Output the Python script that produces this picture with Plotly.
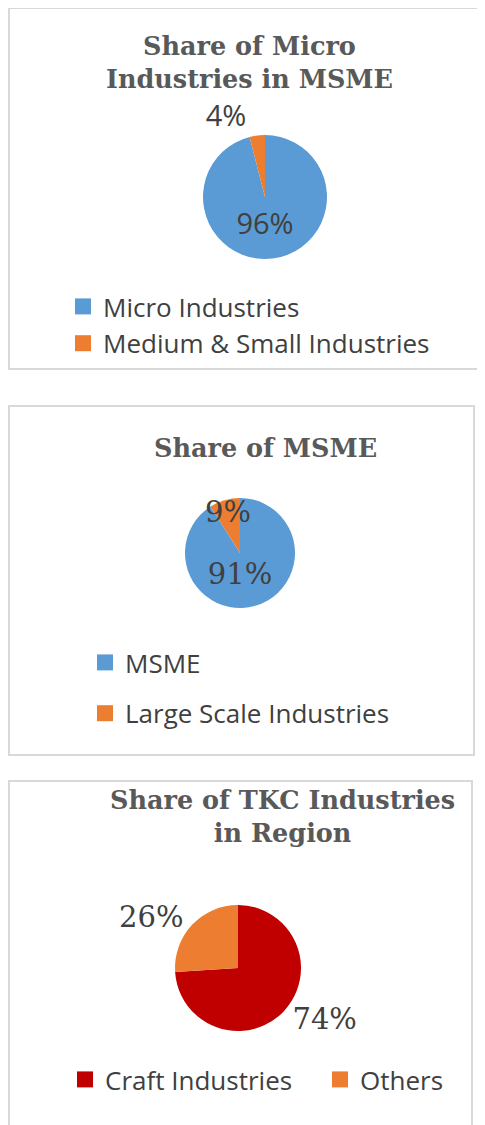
import plotly.graph_objects as go

# page body has an 8px margin, so the figure is drawn 8px in from the corner
OFF = 8
W, H = 485 - OFF, 1125 - OFF

# share of micro industries in MSME
micro_labels = ["Micro Industries", "Medium & Small Industries"]
micro_values = [96, 4]

# share of MSME
msme_labels = ["MSME", "Large Scale Industries"]
msme_values = [91, 9]

# share of TKC industries in region
tkc_labels = ["Craft Industries", "Others"]
tkc_values = [74, 26]

BLUE, ORANGE, RED = "#5B9BD5", "#ED7D31", "#C00000"
TEXT = "#404040"
SANS = "Open Sans"
SERIF = "DejaVu Serif"


def fx(px):
    return (px - OFF) / W


def fy(py):
    return 1 - (py - OFF) / H


def dom(cx, cy, r):
    return dict(x=[fx(cx - r), fx(cx + r)], y=[fy(cy + r), fy(cy - r)])


def pie(labels, values, colors, domain, positions, family, size):
    return go.Pie(
        labels=labels, values=values, sort=False, direction="clockwise",
        marker=dict(colors=colors, line=dict(width=0)),
        domain=domain, textinfo="percent", texttemplate="%{percent:.0%}",
        textposition=positions, insidetextorientation="horizontal",
        textfont=dict(family=family, size=size, color=TEXT),
        showlegend=False, hoverinfo="label+percent",
    )


fig = go.Figure()
fig.add_trace(pie(micro_labels, micro_values, [BLUE, ORANGE], dom(265, 197, 62),
                  ["inside", "outside"], SANS, 30))
fig.add_trace(pie(msme_labels, msme_values, [BLUE, ORANGE], dom(240, 553, 55),
                  ["inside", "inside"], SERIF, 29))
fig.add_trace(pie(tkc_labels, tkc_values, [RED, ORANGE], dom(238, 968, 63),
                  ["outside", "outside"], SERIF, 29))

# legend entries (square swatches)
for legends, labels, colors in [(["legend", "legend"], micro_labels, [BLUE, ORANGE]),
                                (["legend2", "legend2"], msme_labels, [BLUE, ORANGE]),
                                (["legend3", "legend4"], tkc_labels, [RED, ORANGE])]:
    for leg, lab, col in zip(legends, labels, colors):
        fig.add_trace(go.Scatter(
            x=[None], y=[None], mode="markers", name=lab, legend=leg,
            legendgroup=lab, marker=dict(symbol="square", size=16, color=col),
        ))

legend_font = dict(family=SANS, size=26, color=TEXT)
common = dict(xanchor="left", yanchor="top", font=legend_font,
              bgcolor="rgba(0,0,0,0)", traceorder="grouped")
fig.update_layout(
    width=W, height=H,
    margin=dict(l=0, r=0, t=0, b=0),
    paper_bgcolor="white", plot_bgcolor="white",
    xaxis=dict(visible=False), yaxis=dict(visible=False),
    uniformtext=dict(minsize=29, mode="show"),
    legend=dict(x=fx(63), y=fy(283), tracegroupgap=0, **common),
    legend2=dict(x=fx(85), y=fy(639), tracegroupgap=14, **common),
    legend3=dict(x=fx(65), y=fy(1056), **common),
    legend4=dict(x=fx(320), y=fy(1056), **common),
)

# panel borders
for x0, y0, x1, y1 in [(9, 8, 484, 369), (9, 406, 474, 755), (9, 781, 472, 1140)]:
    fig.add_shape(type="rect", xref="paper", yref="paper",
                  x0=fx(x0), x1=fx(x1), y0=fy(y0), y1=fy(y1),
                  line=dict(color="#D9D9D9", width=2), fillcolor="rgba(0,0,0,0)")

title_font = dict(family=SERIF, size=25.5, color="#595959", weight="bold")
for text, x, y in [("Share of Micro<br>Industries in MSME", 249, 63),
                   ("Share of MSME", 265, 448),
                   ("Share of TKC Industries<br>in Region", 282, 816)]:
    fig.add_annotation(text=text, x=fx(x), y=fy(y), xref="paper", yref="paper",
                       xanchor="center", yanchor="middle", showarrow=False,
                       font=title_font)

fig.write_html("out.html")
